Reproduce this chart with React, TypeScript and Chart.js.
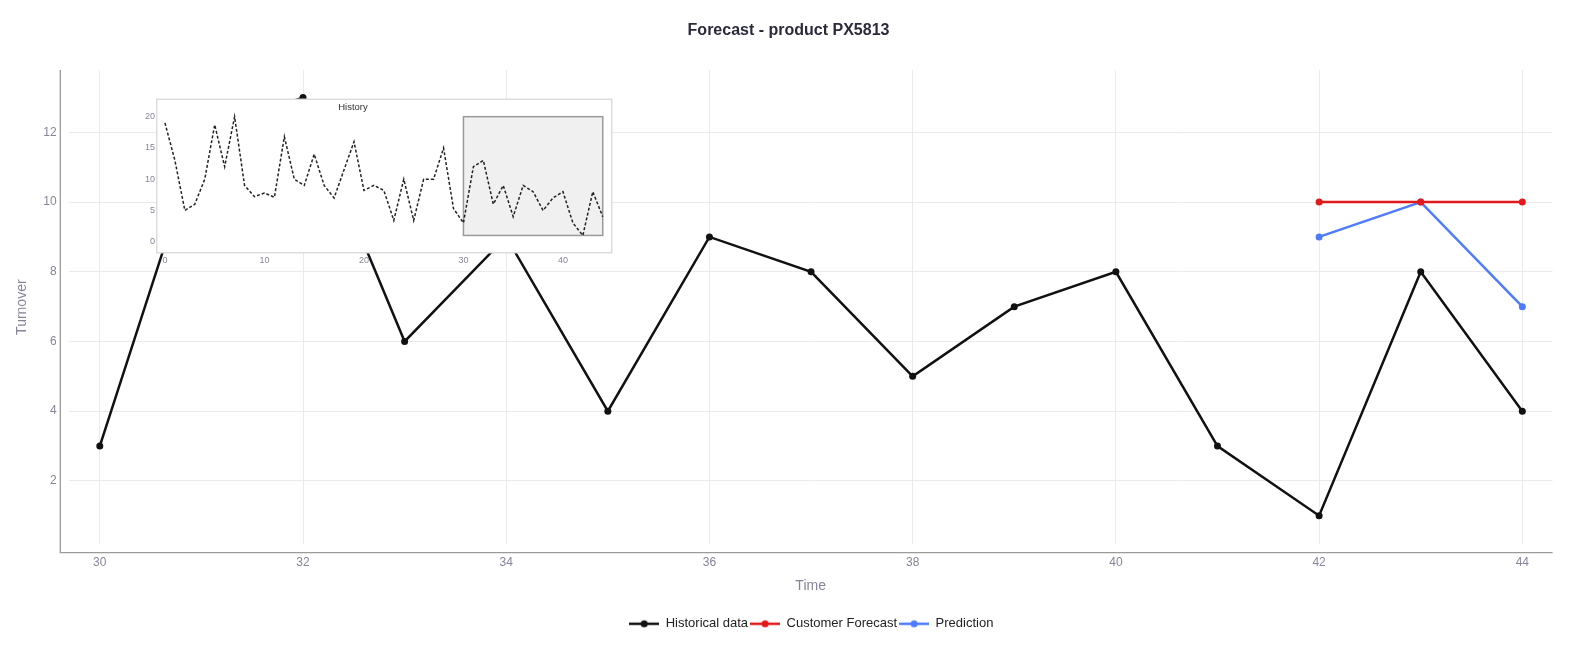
import React, { useEffect, useRef } from 'react';
import { Chart, registerables } from 'chart.js';

Chart.register(...registerables);

// ---------- data ----------
const mainTime = [30, 31, 32, 33, 34, 35, 36, 37, 38, 39, 40, 41, 42, 43, 44];
const historicalValues = [3, 12, 13, 6, 9, 4, 9, 8, 5, 7, 8, 3, 1, 8, 4];
const forecastTime = [42, 43, 44];
const customerForecastValues = [10, 10, 10];
const predictionValues = [9, 10, 7];

const historyTime = [
  0, 1, 2, 3, 4, 5, 6, 7, 8, 9, 10, 11, 12, 13, 14, 15, 16, 17, 18, 19, 20, 21, 22,
  23, 24, 25, 26, 27, 28, 29, 30, 31, 32, 33, 34, 35, 36, 37, 38, 39, 40, 41, 42, 43, 44,
];
const historyValues = [
  19, 13, 5, 6, 10, 18.7, 12, 20, 9, 7.2, 7.8, 7.1, 16.8, 10, 9, 14, 9, 7, 11.5, 16, 8.2, 9, 8.2,
  3.4, 10, 3.4, 10, 10, 15, 5.3, 3, 12, 13, 6, 9, 4, 9, 8, 5, 7, 8, 3, 1, 8, 4,
];
const historyWindowX = [30, 44];
const historyWindowY = [1, 20];

const mainXTicks = [30, 32, 34, 36, 38, 40, 42, 44];
const mainYTicks = [2, 4, 6, 8, 10, 12];
const insetXTicks = [0, 10, 20, 30, 40];
const insetYTicks = [0, 5, 10, 15, 20];

const seriesNames = ['Historical data', 'Customer Forecast', 'Prediction'];
const seriesColors = ['#111111', '#e31a1c', '#4f7cff'];

// ---------- styles ----------
const FONT = "'Liberation Sans', Arial, sans-serif";
const TICK_COLOR = '#85859a';
const GRID_COLOR = '#ebebeb';

function legendImage(color: string): HTMLCanvasElement {
  const c = document.createElement('canvas');
  c.width = 30;
  c.height = 10;
  const ctx = c.getContext('2d')!;
  ctx.strokeStyle = color;
  ctx.lineWidth = 2.5;
  ctx.beginPath();
  ctx.moveTo(0, 5);
  ctx.lineTo(30, 5);
  ctx.stroke();
  ctx.fillStyle = color;
  ctx.beginPath();
  ctx.arc(15, 5, 3.5, 0, Math.PI * 2);
  ctx.fill();
  return c;
}

const axisLinesPlugin = {
  id: 'axisLines',
  beforeDatasetsDraw(chart: any) {
    const { ctx, chartArea } = chart;
    ctx.save();
    ctx.strokeStyle = '#9a9a9a';
    ctx.lineWidth = 1.3;
    ctx.beginPath();
    ctx.moveTo(chartArea.left - 8.4, chartArea.top);
    ctx.lineTo(chartArea.left - 8.4, chartArea.bottom + 8.3);
    ctx.lineTo(chartArea.right, chartArea.bottom + 8.3);
    ctx.stroke();
    ctx.restore();
  },
};

const boxShiftPlugin = {
  id: 'boxShift',
  afterLayout(chart: any) {
    const l = chart.legend;
    if (l) {
      l.left += 35;
      l.right += 35;
    }
    const t = chart.titleBlock;
    if (t) {
      t.left += 12.2;
      t.right += 12.2;
    }
  },
};

const insetFramePlugin = {
  id: 'insetFrame',
  beforeDatasetsDraw(chart: any) {
    const { ctx, chartArea, scales } = chart;
    ctx.save();
    ctx.fillStyle = '#ffffff';
    ctx.fillRect(chartArea.left, chartArea.top, chartArea.right - chartArea.left, chartArea.bottom - chartArea.top);
    ctx.strokeStyle = '#dcdcdc';
    ctx.lineWidth = 1.5;
    ctx.strokeRect(chartArea.left, chartArea.top, chartArea.right - chartArea.left, chartArea.bottom - chartArea.top);
    const x0 = scales.x.getPixelForValue(historyWindowX[0]);
    const x1 = scales.x.getPixelForValue(historyWindowX[1]);
    const y0 = scales.y.getPixelForValue(historyWindowY[1]);
    const y1 = scales.y.getPixelForValue(historyWindowY[0]);
    ctx.fillStyle = '#f0f0f0';
    ctx.fillRect(x0, y0, x1 - x0, y1 - y0);
    ctx.strokeStyle = '#9a9a9a';
    ctx.lineWidth = 1.5;
    ctx.strokeRect(x0, y0, x1 - x0, y1 - y0);
    ctx.fillStyle = '#333333';
    ctx.font = `9.5px ${FONT}`;
    ctx.textAlign = 'center';
    ctx.textBaseline = 'middle';
    ctx.fillText('History', scales.x.getPixelForValue(18.9), chartArea.top + 8);
    ctx.restore();
  },
};

export default function App() {
  const mainRef = useRef<HTMLCanvasElement>(null);
  const insetRef = useRef<HTMLCanvasElement>(null);

  useEffect(() => {
    document.body.style.margin = '0';
    Chart.defaults.font.family = FONT;

    const main = new Chart(mainRef.current!, {
      type: 'line',
      data: {
        datasets: [
          {
            label: seriesNames[0],
            data: mainTime.map((t, i) => ({ x: t, y: historicalValues[i] })),
            borderColor: seriesColors[0],
            backgroundColor: seriesColors[0],
            borderWidth: 2.5,
            pointRadius: 3.5,
            pointBorderWidth: 0,
          },
          {
            label: seriesNames[1],
            data: forecastTime.map((t, i) => ({ x: t, y: customerForecastValues[i] })),
            borderColor: seriesColors[1],
            backgroundColor: seriesColors[1],
            borderWidth: 2.5,
            pointRadius: 3.5,
            pointBorderWidth: 0,
          },
          {
            label: seriesNames[2],
            data: forecastTime.map((t, i) => ({ x: t, y: predictionValues[i] })),
            borderColor: seriesColors[2],
            backgroundColor: seriesColors[2],
            borderWidth: 2.5,
            pointRadius: 3.5,
            pointBorderWidth: 0,
          },
        ],
      },
      options: {
        animation: false,
        responsive: false,
        maintainAspectRatio: false,
        layout: { padding: { left: 0, right: 24.4, top: 0, bottom: 9.7 } },
        plugins: {
          title: {
            display: true,
            text: 'Forecast - product PX5813',
            color: '#2a2a3a',
            font: { size: 16, weight: 'bold', family: FONT },
            padding: { top: 20.6, bottom: 30.2 },
          },
          legend: {
            position: 'bottom',
            labels: {
              usePointStyle: true,
              pointStyleWidth: 30,
              boxHeight: 12,
              padding: 2,
              color: '#222222',
              font: { size: 13, family: FONT },
              generateLabels: (chart: any) =>
                chart.data.datasets.map((ds: any, i: number) => ({
                  text: ds.label,
                  pointStyle: legendImage(seriesColors[i]),
                  fillStyle: seriesColors[i],
                  strokeStyle: seriesColors[i],
                  lineWidth: 0,
                  fontColor: '#222222',
                  hidden: false,
                  datasetIndex: i,
                })),
            },
          },
          tooltip: { enabled: false },
        },
        scales: {
          x: {
            type: 'linear',
            min: 29.694,
            max: 44.298,
            afterBuildTicks: (s: any) => {
              s.ticks = mainXTicks.map((v) => ({ value: v }));
            },
            afterFit: (s: any) => {
              s.height = 71;
            },
            grid: { color: GRID_COLOR, drawTicks: false },
            border: { display: false },
            ticks: { padding: 10.8, color: TICK_COLOR, font: { size: 12 } },
            title: {
              display: true,
              text: 'Time',
              color: TICK_COLOR,
              font: { size: 14 },
              padding: { top: 21, bottom: 21 },
            },
          },
          y: {
            type: 'linear',
            min: 0.18,
            max: 13.79,
            afterBuildTicks: (s: any) => {
              s.ticks = mainYTicks.map((v) => ({ value: v }));
            },
            afterFit: (s: any) => {
              s.width = 68.7;
            },
            grid: { color: GRID_COLOR, drawTicks: false },
            border: { display: false },
            ticks: { padding: 12, color: TICK_COLOR, font: { size: 12 } },
            title: {
              display: true,
              text: 'Turnover',
              color: TICK_COLOR,
              font: { size: 14 },
              padding: { top: 13.6, bottom: 13.6 },
            },
          },
        },
      },
      plugins: [axisLinesPlugin, boxShiftPlugin],
    } as any);

    const inset = new Chart(insetRef.current!, {
      type: 'line',
      data: {
        datasets: [
          {
            label: 'History',
            data: historyTime.map((t, i) => ({ x: t, y: historyValues[i] })),
            borderColor: '#222222',
            borderWidth: 1.5,
            borderDash: [3, 2],
            pointRadius: 0,
            fill: false,
          },
        ],
      },
      options: {
        animation: false,
        responsive: false,
        maintainAspectRatio: false,
        layout: { padding: { left: 0, right: 18.3, top: 14.3, bottom: 0 } },
        plugins: { legend: { display: false }, title: { display: false }, tooltip: { enabled: false } },
        scales: {
          x: {
            type: 'linear',
            min: -0.83,
            max: 44.9,
            afterBuildTicks: (s: any) => {
              s.ticks = insetXTicks.map((v) => ({ value: v }));
            },
            afterFit: (s: any) => {
              s.height = 32.3;
            },
            grid: { display: false, drawTicks: false },
            border: { display: false },
            ticks: { padding: 2.6, color: TICK_COLOR, font: { size: 9 } },
          },
          y: {
            type: 'linear',
            min: -1.76,
            max: 22.78,
            afterBuildTicks: (s: any) => {
              s.ticks = insetYTicks.map((v) => ({ value: v }));
            },
            afterFit: (s: any) => {
              s.width = 26.7;
            },
            grid: { display: false, drawTicks: false },
            border: { display: false },
            ticks: { padding: 1.7, color: TICK_COLOR, font: { size: 9 } },
          },
        },
      },
      plugins: [insetFramePlugin],
    } as any);

    return () => {
      main.destroy();
      inset.destroy();
    };
  }, []);

  return (
    <div style={{ position: 'relative', width: 1577, height: 650 }}>
      <canvas ref={mainRef} width={1577} height={650} style={{ position: 'absolute', left: 0, top: 0 }} />
      <canvas ref={insetRef} width={500} height={200} style={{ position: 'absolute', left: 130, top: 85 }} />
    </div>
  );
}
